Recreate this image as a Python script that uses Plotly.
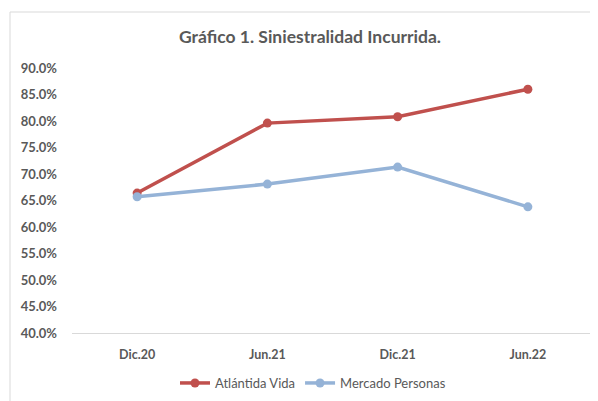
import plotly.graph_objects as go

categories = ["Dic.20", "Jun.21", "Dic.21", "Jun.22"]
atlantida = [0.664, 0.796, 0.808, 0.860]
mercado = [0.657, 0.681, 0.713, 0.638]
tick_vals = [0.40, 0.45, 0.50, 0.55, 0.60, 0.65, 0.70, 0.75, 0.80, 0.85, 0.90]

FONT = "Lato, 'Open Sans', sans-serif"
GRAY = "#595959"

# page body has an 8px default margin; compensate so marks land where intended
OFF = 8
L, T = 72 - OFF, 68 - OFF
PW, PH = 521, 265
W, H = 598, 401

fig = go.Figure()
fig.add_trace(go.Scatter(x=categories, y=atlantida, name="Atlántida Vida",
                         mode="lines+markers",
                         line=dict(color="#C0504D", width=3.5),
                         marker=dict(size=9, color="#C0504D")))
fig.add_trace(go.Scatter(x=categories, y=mercado, name="Mercado Personas",
                         mode="lines+markers",
                         line=dict(color="#95B3D7", width=3.5),
                         marker=dict(size=9, color="#95B3D7")))

fig.update_layout(
    width=W, height=H,
    margin=dict(l=L, r=W - L - PW, t=T, b=H - T - PH, autoexpand=False),
    paper_bgcolor="white", plot_bgcolor="white",
    font=dict(family=FONT, color=GRAY, size=12),
    title=dict(text="<b>Gráfico 1. Siniestralidad Incurrida.</b>",
               x=(310 - OFF) / W, xanchor="center",
               y=(H - (37 - OFF)) / H, yanchor="middle", yref="container",
               font=dict(size=17.5, color=GRAY, family=FONT)),
    showlegend=True,
    legend=dict(orientation="h", x=(313 - 72) / PW, xanchor="center",
                y=(333 - 383) / PH, yanchor="middle",
                font=dict(size=13, color=GRAY, family=FONT), bgcolor="rgba(0,0,0,0)"),
    xaxis=dict(type="category", range=[-0.5, 3.5], showgrid=False, showline=True,
               linecolor="#D9D9D9", linewidth=1, ticks="",
               tickfont=dict(size=12.5, color=GRAY, family=FONT),
               ticklabelstandoff=10, zeroline=False),
    yaxis=dict(range=[0.40, 0.90], tickvals=tick_vals, tickformat=".1%",
               showgrid=False, showline=False, zeroline=False, ticks="",
               tickfont=dict(size=13, color=GRAY, family=FONT), ticklabelstandoff=14),
    shapes=[dict(type="rect", xref="paper", yref="paper",
                 x0=(10 - 72) / PW, x1=1.1, y0=-0.4, y1=(333 - 12) / PH,
                 line=dict(color="#D9D9D9", width=1), fillcolor="rgba(0,0,0,0)", layer="below")],
)

# bold tick labels
fig.update_xaxes(tickvals=categories, ticktext=[f"<b>{c}</b>" for c in categories])
fig.update_yaxes(ticktext=[f"<b>{v*100:.1f}%</b>" for v in tick_vals])

fig.write_html("out.html")
